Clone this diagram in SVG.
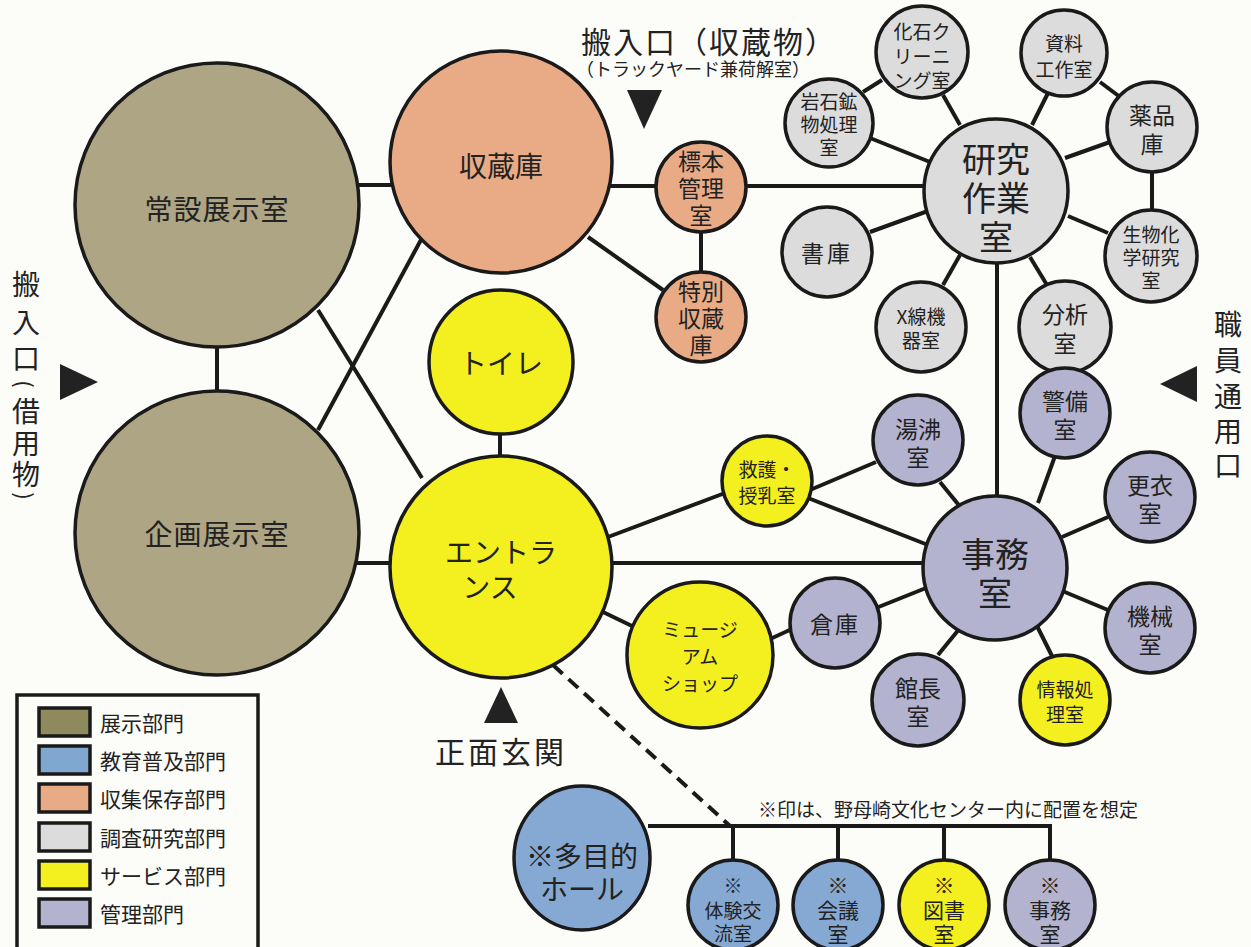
<svg xmlns="http://www.w3.org/2000/svg" width="1251" height="947" viewBox="0 0 1251 947">
<style>
text{font-family:"Noto Sans CJK JP","Noto Sans",sans-serif;fill:#222;text-anchor:middle;dominant-baseline:central}
.n{stroke:#1a1a1a;stroke-width:3.5}
.ex{fill:#ada583}.ed{fill:#86a9d4}.co{fill:#e8ab86}.re{fill:#dcdcdc}.sv{fill:#f4ef1e}.ad{fill:#b4b3cf}
.c line,.c path{stroke:#1a1a1a;stroke-width:4;fill:none}
.big{font-size:28px}.mid{font-size:34px}.sm{font-size:19px}.md{font-size:23px}.bt{font-size:21px}
.lg rect{stroke:#1a1a1a;stroke-width:3.5}
.lg text{text-anchor:start;font-size:21px}
.v{font-size:28px}
</style>
<rect width="1251" height="947" fill="#fcfcf8"/>
<g class="c" id="connectors">
<line x1="217" y1="340" x2="217" y2="395"/>
<line x1="355" y1="185" x2="395" y2="185"/>
<line x1="318" y1="310" x2="422" y2="478"/>
<line x1="318" y1="430" x2="422" y2="238"/>
<line x1="355" y1="563" x2="395" y2="563"/>
<line x1="610" y1="186" x2="658" y2="186"/>
<line x1="744" y1="186" x2="928" y2="186"/>
<line x1="701" y1="230" x2="701" y2="274"/>
<line x1="588" y1="237" x2="663" y2="290"/>
<line x1="500" y1="430" x2="500" y2="460"/>
<line x1="863" y1="92" x2="882" y2="80"/>
<line x1="870" y1="138" x2="930" y2="162"/>
<line x1="943" y1="95" x2="960" y2="125"/>
<line x1="1048" y1="93" x2="1032" y2="125"/>
<line x1="1100" y1="82" x2="1120" y2="97"/>
<line x1="1110" y1="142" x2="1065" y2="158"/>
<line x1="1152" y1="170" x2="1152" y2="213"/>
<line x1="870" y1="232" x2="928" y2="211"/>
<line x1="943" y1="285" x2="960" y2="255"/>
<line x1="1047" y1="285" x2="1030" y2="257"/>
<line x1="1108" y1="233" x2="1068" y2="216"/>
<line x1="997" y1="260" x2="997" y2="500"/>
<line x1="608" y1="537" x2="725" y2="493"/>
<line x1="612" y1="563" x2="925" y2="563"/>
<line x1="603" y1="612" x2="632" y2="626"/>
<line x1="810" y1="490" x2="876" y2="462"/>
<line x1="808" y1="498" x2="928" y2="545"/>
<line x1="940" y1="482" x2="962" y2="509"/>
<line x1="1055" y1="456" x2="1038" y2="503"/>
<line x1="1108" y1="517" x2="1062" y2="537"/>
<line x1="1108" y1="610" x2="1060" y2="590"/>
<line x1="1053" y1="658" x2="1036" y2="624"/>
<line x1="938" y1="655" x2="960" y2="628"/>
<line x1="876" y1="608" x2="926" y2="588"/>
<line x1="768" y1="640" x2="794" y2="628"/>
<line x1="553" y1="665" x2="730" y2="826" stroke-dasharray="13,8"/>
<path d="M648 826 H1052 M733 826 V862 M838 826 V862 M944 826 V862 M1050 826 V862"/>
</g>
<g id="jousetsu"><circle class="n ex" cx="217" cy="205" r="142"/><text class="big" x="217" y="208" letter-spacing="1">常設展示室</text></g>
<g id="kikaku"><circle class="n ex" cx="217" cy="533" r="142"/><text class="big" x="217" y="533" letter-spacing="1">企画展示室</text></g>
<g id="shuzoko"><circle class="n co" cx="501" cy="162" r="111"/><text class="big" x="501" y="165">収蔵庫</text></g>
<g id="hyohon"><circle class="n co" cx="701" cy="187" r="45"/><text class="md" x="701" y="160">標本</text><text class="md" x="701" y="187">管理</text><text class="md" x="701" y="214">室</text></g>
<g id="tokubetsu"><circle class="n co" cx="701" cy="317" r="45"/><text class="md" x="701" y="290">特別</text><text class="md" x="701" y="317">収蔵</text><text class="md" x="701" y="344">庫</text></g>
<g id="toilet"><circle class="n sv" cx="501" cy="362" r="72"/><text class="big" x="501" y="362">トイレ</text></g>
<g id="entrance"><circle class="n sv" cx="501" cy="567" r="111"/><text class="big" x="501" y="551">エントラ</text><text class="big" x="490" y="586">ンス</text></g>
<g id="shop"><circle class="n sv" cx="700" cy="655" r="73"/><text class="sm" x="700" y="628">ミュージ</text><text class="sm" x="700" y="655">アム</text><text class="sm" x="700" y="682">ショップ</text></g>
<g id="kenkyu"><circle class="n re" cx="996" cy="191" r="72"/><text class="mid" x="996" y="157">研究</text><text class="mid" x="996" y="196">作業</text><text class="mid" x="996" y="235">室</text></g>
<g id="ganseki"><circle class="n re" cx="829" cy="123" r="44"/><text class="sm" x="829" y="100">岩石鉱</text><text class="sm" x="829" y="123">物処理</text><text class="sm" x="829" y="146">室</text></g>
<g id="kaseki"><circle class="n re" cx="922" cy="52" r="46"/><text class="sm" x="922" y="30">化石ク</text><text class="sm" x="922" y="55">リーニ</text><text class="sm" x="922" y="79">ング室</text></g>
<g id="shiryo"><circle class="n re" cx="1064" cy="53" r="43"/><text class="sm" x="1064" y="42">資料</text><text class="sm" x="1064" y="68">工作室</text></g>
<g id="yakuhin"><circle class="n re" cx="1152" cy="127" r="45"/><text class="md" x="1152" y="114">薬品</text><text class="md" x="1152" y="143">庫</text></g>
<g id="shoko"><circle class="n re" cx="827" cy="252" r="45"/><text class="md" x="827" y="252" letter-spacing="3">書庫</text></g>
<g id="xsen"><circle class="n re" cx="921" cy="327" r="45"/><text class="sm" x="921" y="315">X線機</text><text class="sm" x="921" y="339">器室</text></g>
<g id="bunseki"><circle class="n re" cx="1065" cy="327" r="46"/><text class="md" x="1065" y="313">分析</text><text class="md" x="1065" y="342">室</text></g>
<g id="seibutsu"><circle class="n re" cx="1151" cy="256" r="46"/><text class="sm" x="1151" y="233">生物化</text><text class="sm" x="1151" y="256">学研究</text><text class="sm" x="1151" y="279">室</text></g>
<g id="jimu"><circle class="n ad" cx="995" cy="568" r="72"/><text class="mid" x="995" y="552">事務</text><text class="mid" x="995" y="591">室</text></g>
<g id="kyugo"><circle class="n sv" cx="767" cy="481" r="45"/><text class="sm" x="767" y="468">救護・</text><text class="sm" x="767" y="494">授乳室</text></g>
<g id="yuwakashi"><circle class="n ad" cx="918" cy="440" r="45"/><text class="md" x="918" y="428">湯沸</text><text class="md" x="918" y="456">室</text></g>
<g id="keibi"><circle class="n ad" cx="1065" cy="413" r="45"/><text class="md" x="1065" y="400">警備</text><text class="md" x="1065" y="428">室</text></g>
<g id="koui"><circle class="n ad" cx="1150" cy="497" r="45"/><text class="md" x="1150" y="484">更衣</text><text class="md" x="1150" y="512">室</text></g>
<g id="kikai"><circle class="n ad" cx="1150" cy="628" r="45"/><text class="md" x="1150" y="615">機械</text><text class="md" x="1150" y="643">室</text></g>
<g id="joho"><circle class="n sv" cx="1065" cy="700" r="45"/><text class="sm" x="1065" y="688">情報処</text><text class="sm" x="1065" y="713">理室</text></g>
<g id="kancho"><circle class="n ad" cx="918" cy="700" r="46"/><text class="md" x="918" y="687">館長</text><text class="md" x="918" y="715">室</text></g>
<g id="soko"><circle class="n ad" cx="835" cy="623" r="45"/><text class="md" x="835" y="623" letter-spacing="2">倉庫</text></g>
<g id="hall"><ellipse class="n ed" cx="582" cy="858" rx="68" ry="72"/><text class="big" x="582" y="855">※多目的</text><text class="big" x="582" y="888">ホール</text></g>
<g id="taiken"><circle class="n ed" cx="733" cy="905" r="45"/><text class="sm" x="733" y="884">※</text><text class="sm" x="733" y="909">体験交</text><text class="sm" x="733" y="932">流室</text></g>
<g id="kaigi"><circle class="n ed" cx="838" cy="905" r="45"/><text class="bt" x="838" y="884">※</text><text class="bt" x="838" y="909">会議</text><text class="bt" x="838" y="933">室</text></g>
<g id="tosho"><circle class="n sv" cx="944" cy="905" r="45"/><text class="bt" x="944" y="884">※</text><text class="bt" x="944" y="909">図書</text><text class="bt" x="944" y="933">室</text></g>
<g id="jimu2"><circle class="n ad" cx="1050" cy="905" r="45"/><text class="bt" x="1050" y="884">※</text><text class="bt" x="1050" y="909">事務</text><text class="bt" x="1050" y="933">室</text></g>
<g id="labels">
<text x="709" y="40" font-size="30" letter-spacing="2">搬入口（収蔵物）</text>
<text x="693" y="68" font-size="18">（トラックヤード兼荷解室）</text>
<polygon points="627,90 662,90 644,129" fill="#222"/>
<polygon points="484,723 518,723 501,687" fill="#222"/>
<text x="501" y="750" font-size="30" letter-spacing="3">正面玄関</text>
<polygon points="60,364 60,400 98,382" fill="#222"/>
<text class="v" x="26" y="283">搬</text><text class="v" x="26" y="321">入</text><text class="v" x="26" y="357">口</text>
<text x="26" y="384" font-size="22" transform="rotate(90 26 384)">(</text>
<text class="v" x="26" y="410">借</text><text class="v" x="26" y="442">用</text><text class="v" x="26" y="473">物</text>
<text x="26" y="496" font-size="22" transform="rotate(90 26 496)">)</text>
<polygon points="1197,366 1197,402 1160,384" fill="#222"/>
<text class="v" x="1228" y="323">職</text><text class="v" x="1228" y="359">員</text><text class="v" x="1228" y="395">通</text><text class="v" x="1228" y="430">用</text><text class="v" x="1228" y="464">口</text>
<text x="948" y="808" font-size="19">※印は、野母崎文化センター内に配置を想定</text>
</g>
<g id="legend" class="lg">
<rect x="17" y="695" width="241" height="260" fill="none" stroke-width="1.5"/>
<rect x="39" y="708" width="51" height="28" fill="#8f8a5e"/><text x="100" y="722">展示部門</text>
<rect x="39" y="746" width="51" height="28" fill="#7fa7d0"/><text x="100" y="760">教育普及部門</text>
<rect x="39" y="784" width="51" height="28" fill="#e8ab86"/><text x="100" y="798">収集保存部門</text>
<rect x="39" y="823" width="51" height="28" fill="#dcdcdc"/><text x="100" y="837">調査研究部門</text>
<rect x="39" y="861" width="51" height="28" fill="#f4ef1e"/><text x="100" y="875">サービス部門</text>
<rect x="39" y="899" width="51" height="28" fill="#b4b3cf"/><text x="100" y="913">管理部門</text>
</g>
</svg>
